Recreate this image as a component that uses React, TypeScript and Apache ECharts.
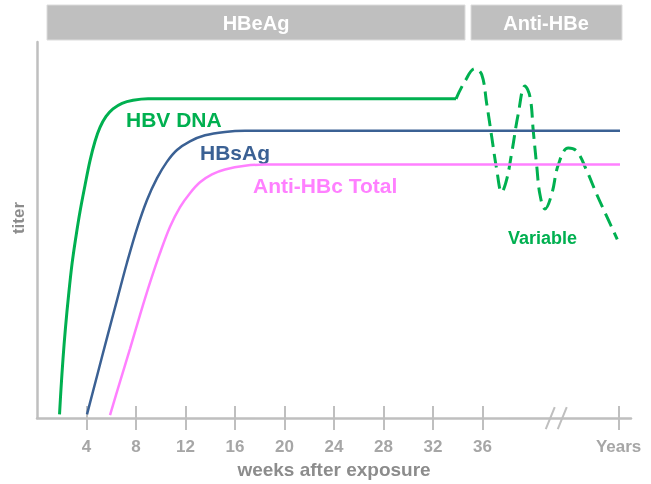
import React, { useEffect, useRef } from "react";
import * as echarts from "echarts";

// HBV DNA (solid rise + plateau)
const hbvDnaWeeks = [1.82, 1.94, 2.1, 2.3, 2.55, 2.83, 3.15, 3.47, 3.88, 4.28, 4.69, 5.09, 5.58, 6.14, 6.87, 7.76, 8.97, 33.86];
const hbvDnaTiter = [1.0, 7.8, 15.7, 24.0, 32.6, 41.0, 48.3, 54.8, 61.9, 68.4, 73.6, 77.3, 80.2, 82.2, 83.7, 84.5, 84.9, 84.9];
// HBV DNA variable phase (dashed)
const variableWeeks = [33.86, 34.59, 35.39, 35.93, 36.34, 36.74, 37.15, 37.55, 37.95, 38.36, 38.89, 39.43, 39.84, 40.1, 40.38, 40.65, 41.05, 41.59, 42.13, 42.93, 43.61, 44.42, 45.23, 46.17, 46.89];
const variableTiter = [84.9, 89.6, 92.9, 91.4, 83.6, 74.9, 66.1, 60.1, 63.4, 70.5, 80.9, 88.3, 85.4, 76.5, 67.1, 59.3, 55.6, 59.5, 67.4, 71.8, 71.0, 65.8, 59.5, 52.7, 47.5];
// HBsAg
const hbsAgWeeks = [4.04, 4.85, 5.66, 6.46, 7.27, 8.08, 8.89, 9.7, 10.51, 11.31, 12.36, 13.58, 15.19, 16.81, 47.11];
const hbsAgTiter = [1.0, 11.2, 21.4, 31.3, 41.3, 50.4, 58.0, 63.8, 68.2, 71.3, 73.6, 75.2, 76.1, 76.4, 76.4];
// Anti-HBc Total
const antiHbcWeeks = [5.9, 6.71, 7.52, 8.32, 9.13, 9.94, 10.75, 11.56, 12.36, 13.17, 14.14, 15.19, 16.81, 18.42, 47.11];
const antiHbcTiter = [0.8, 9.7, 18.5, 27.4, 36.0, 43.9, 50.9, 56.1, 59.8, 62.7, 64.8, 66.1, 67.1, 67.4, 67.4];

const tickWeeks = [4, 8, 12, 16, 20, 24, 28, 32, 36, 47];
const yearsTick = 47;
const breakWeek = 42;

const GREEN = "#00b050";
const BLUE = "#3b6194";
const PINK = "#ff80ff";
const AXIS = "#bfbfbf";
const FONT = "'Liberation Sans', Arial, sans-serif";

const pairs = (xs: number[], ys: number[]) => xs.map((x, i) => [x, ys[i]]);

export default function App() {
  const ref = useRef<HTMLDivElement>(null);
  useEffect(() => {
    if (!ref.current) return;
    const chart = echarts.init(ref.current, null, { renderer: "svg" });
    const baseX = {
      type: "value",
      min: 0,
      max: 48,
      position: "bottom",
      splitLine: { show: false },
    };
    chart.setOption({
      animation: false,
      grid: { left: 37, right: 20, top: 42, bottom: 59 },
      xAxis: [
        {
          ...baseX,
          name: "weeks after exposure",
          nameLocation: "middle",
          nameGap: 40,
          nameTextStyle: { color: "#8c8c8c", fontSize: 19, fontWeight: "bold", fontFamily: FONT },
          axisLine: { show: true, lineStyle: { color: AXIS, width: 2.5 } },
          axisTick: { show: true, inside: true, length: 12, customValues: tickWeeks, lineStyle: { color: AXIS, width: 2 } },
          axisLabel: {
            show: true,
            customValues: tickWeeks,
            margin: 20,
            color: "#a6a6a6",
            fontSize: 17,
            fontWeight: "bold",
            fontFamily: FONT,
            formatter: (v: number) => (v === yearsTick ? "Years" : String(v)),
          },
        },
        {
          ...baseX,
          axisLine: { show: false },
          axisTick: { show: true, inside: false, length: 12, customValues: tickWeeks, lineStyle: { color: AXIS, width: 2 } },
          axisLabel: { show: false },
        },
      ],
      yAxis: {
        type: "value",
        min: 0,
        max: 100,
        axisLine: { show: true, lineStyle: { color: AXIS, width: 2.5 } },
        axisTick: { show: false },
        axisLabel: { show: false },
        splitLine: { show: false },
      },
      series: [
        {
          name: "HBV DNA",
          type: "line",
          data: pairs(hbvDnaWeeks, hbvDnaTiter),
          smooth: 0.35,
          showSymbol: false,
          lineStyle: { color: GREEN, width: 3 },
        },
        {
          name: "Variable",
          type: "line",
          data: pairs(variableWeeks, variableTiter),
          smooth: 0.4,
          showSymbol: false,
          lineStyle: { color: GREEN, width: 3, type: [14, 7] },
        },
        {
          name: "HBsAg",
          type: "line",
          data: pairs(hbsAgWeeks, hbsAgTiter),
          smooth: 0.35,
          showSymbol: false,
          lineStyle: { color: BLUE, width: 2.5 },
        },
        {
          name: "Anti-HBc Total",
          type: "line",
          data: pairs(antiHbcWeeks, antiHbcTiter),
          smooth: 0.35,
          showSymbol: false,
          lineStyle: { color: PINK, width: 2.5 },
        },
      ],
    });

    const [bx, by] = chart.convertToPixel({ xAxisIndex: 0, yAxisIndex: 0 }, [breakWeek, 0]) as number[];
    chart.setOption({
      graphic: [
        { type: "rect", shape: { x: 47, y: 5, width: 418, height: 35 }, style: { fill: "#bfbfbf", stroke: "#dcdcdc", lineWidth: 1 } },
        { type: "text", x: 256, y: 23, style: { text: "HBeAg", fill: "#ffffff", font: `bold 20px ${FONT}`, align: "center", verticalAlign: "middle" } },
        { type: "rect", shape: { x: 471, y: 5, width: 151, height: 35 }, style: { fill: "#bfbfbf", stroke: "#dcdcdc", lineWidth: 1 } },
        { type: "text", x: 546, y: 23, style: { text: "Anti-HBe", fill: "#ffffff", font: `bold 20px ${FONT}`, align: "center", verticalAlign: "middle" } },
        { type: "text", x: 18, y: 218, rotation: Math.PI / 2, style: { text: "titer", fill: "#8c8c8c", font: `bold 17px ${FONT}`, align: "center", verticalAlign: "middle" } },
        { type: "text", x: 126, y: 119, style: { text: "HBV DNA", fill: GREEN, font: `bold 21px ${FONT}`, align: "left", verticalAlign: "middle" } },
        { type: "text", x: 200, y: 152, style: { text: "HBsAg", fill: BLUE, font: `bold 21px ${FONT}`, align: "left", verticalAlign: "middle" } },
        { type: "text", x: 253, y: 185, style: { text: "Anti-HBc Total", fill: PINK, font: `bold 21px ${FONT}`, align: "left", verticalAlign: "middle" } },
        { type: "text", x: 508, y: 238, style: { text: "Variable", fill: GREEN, font: `bold 18px ${FONT}`, align: "left", verticalAlign: "middle" } },
        { type: "line", shape: { x1: bx - 11, y1: by + 11, x2: bx - 2, y2: by - 11 }, style: { stroke: AXIS, lineWidth: 2 } },
        { type: "line", shape: { x1: bx + 1, y1: by + 11, x2: bx + 10, y2: by - 11 }, style: { stroke: AXIS, lineWidth: 2 } },
      ],
    });
    return () => chart.dispose();
  }, []);
  return <div ref={ref} style={{ position: "fixed", left: 0, top: 0, width: 651, height: 484 }} />;
}
